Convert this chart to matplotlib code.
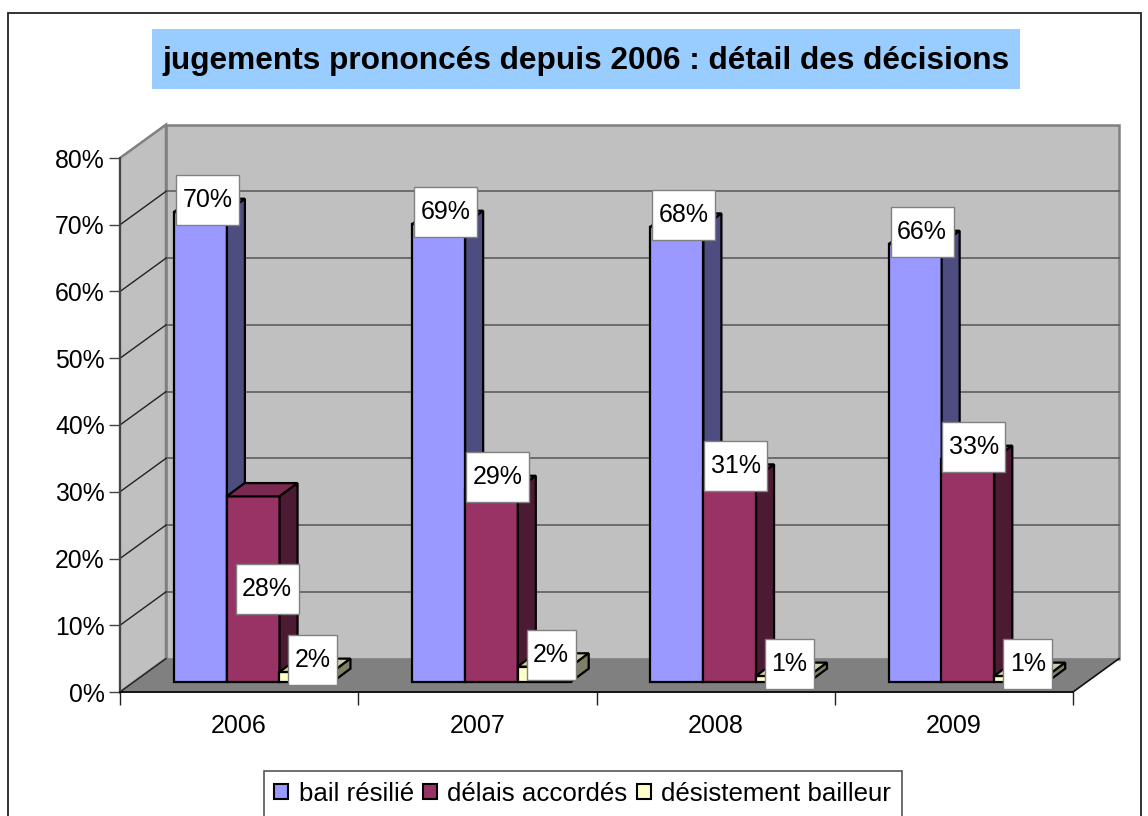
import matplotlib
matplotlib.use("Agg")
from matplotlib import pyplot as plt
from matplotlib.patches import Polygon, Rectangle
from matplotlib.path import Path

plt.rcParams["font.family"] = ["Liberation Sans", "DejaVu Sans"]

W, H = 1148, 816

years = ["2006", "2007", "2008", "2009"]
series_names = ["bail résilié", "délais accordés", "désistement bailleur"]
bail_resilie = [70.4, 68.6, 68.2, 65.6]
delais_accordes = [27.8, 28.9, 30.6, 33.4]
desistement = [1.5, 2.3, 0.9, 0.9]
labels_bail = ["70%", "69%", "68%", "66%"]
labels_delais = ["28%", "29%", "31%", "33%"]
labels_desist = ["2%", "2%", "1%", "1%"]
y_ticks = [0, 10, 20, 30, 40, 50, 60, 70, 80]


def px_box(x0, y0, x1, y1):
    """Pixel box (y from the top) to figure fraction [left, bottom, width, height]."""
    return [x0 / W, 1 - y1 / H, (x1 - x0) / W, (y1 - y0) / H]


def label_box(x0, y0, width, height, mutation_size):
    """Label background: 6.5 px each side, always 50 px high."""
    left, right = x0 - 6.5, x0 + width + 6.5
    mid = y0 + height / 2
    low, high = mid - 25, mid + 25
    return Path([(left, low), (right, low), (right, high), (left, high), (left, low)], closed=True)


def draw_bar_3d(ax, x, value, width, base, depth_x, depth_y, front, top, side):
    ax.bar(x, value, width, bottom=base, color=front, edgecolor="black",
           linewidth=1.6, zorder=4, clip_on=False)
    left, right = x - width / 2, x + width / 2
    high = base + value
    ax.add_patch(Polygon(
        [(left, high), (right, high), (right + depth_x, high + depth_y), (left + depth_x, high + depth_y)],
        facecolor=top, edgecolor="black", linewidth=1.6, zorder=4, clip_on=False))
    ax.add_patch(Polygon(
        [(right, base), (right + depth_x, base + depth_y), (right + depth_x, high + depth_y), (right, high)],
        facecolor=side, edgecolor="black", linewidth=1.6, zorder=4, clip_on=False))


fig = plt.figure(figsize=(W / 100, H / 100), dpi=100)

# outer chart frame, runs off the bottom of the picture
l, b, w, h = px_box(7.5, 13, 1141, 830)
fig.add_artist(Rectangle((l, b), w, h, transform=fig.transFigure, facecolor="white",
                         edgecolor="#222222", linewidth=1.3, zorder=-2))

# title with its blue background
l, b, w, h = px_box(152, 29, 1020, 89)
fig.add_artist(Rectangle((l, b), w, h, transform=fig.transFigure, facecolor="#99CCFF",
                         edgecolor="none", zorder=-1))
fig.text(586 / W, 1 - 61 / H, "jugements prononcés depuis 2006 : détail des décisions",
         fontsize=22.8, fontweight="bold", ha="center", va="center", color="black")

ax = fig.add_axes(px_box(120, 158, 1073, 692))
ax.set_xlim(-0.5, 3.5)
ax.set_ylim(0, 80)
ax.patch.set_alpha(0)

# depth of the box and of the bars, in data units
wall_dx = 46 / 238.25
wall_dy = 5.0
bar_w = 0.2225
bar_dx = 0.0755
bar_dy = 2.0
base = 1.5
shifts = [-0.1625, 0.0585, 0.2805]

x_lo, x_hi = -0.5, 3.5
ax.add_patch(Polygon(
    [(x_lo + wall_dx, wall_dy), (x_hi + wall_dx, wall_dy), (x_hi + wall_dx, 80 + wall_dy), (x_lo + wall_dx, 80 + wall_dy)],
    facecolor="#C0C0C0", edgecolor="#808080", linewidth=1.8, zorder=1, clip_on=False))
ax.add_patch(Polygon(
    [(x_lo, 0), (x_lo + wall_dx, wall_dy), (x_lo + wall_dx, 80 + wall_dy), (x_lo, 80)],
    facecolor="#C0C0C0", edgecolor="#808080", linewidth=1.8, zorder=1, clip_on=False))
ax.add_patch(Polygon(
    [(x_lo, 0), (x_hi, 0), (x_hi + wall_dx, wall_dy), (x_lo + wall_dx, wall_dy)],
    facecolor="#808080", edgecolor="none", zorder=2, clip_on=False))

for t in y_ticks[1:-1]:
    ax.plot([x_lo + wall_dx, x_hi + wall_dx], [t + wall_dy, t + wall_dy], color="#555555",
            linewidth=1.1, zorder=2, clip_on=False)
for t in y_ticks[:-1]:
    ax.plot([x_lo, x_lo + wall_dx], [t, t + wall_dy], color="#222222",
            linewidth=1.0, zorder=3, clip_on=False)
ax.plot([x_hi, x_hi + wall_dx], [0, wall_dy], color="#111111", linewidth=1.2, zorder=3, clip_on=False)

colors = [
    ("#9999FF", "#7A7ACC", "#4D4D80"),
    ("#993366", "#7A2951", "#4D1A33"),
    ("#FFFFCC", "#CCCCA3", "#808066"),
]
values = [bail_resilie, delais_accordes, desistement]
labels = [labels_bail, labels_delais, labels_desist]

for i in range(len(years)):
    for s in range(3):
        front, top, side = colors[s]
        draw_bar_3d(ax, i + shifts[s], values[s][i], bar_w, base, bar_dx, bar_dy, front, top, side)

# data labels sit over the bars, offsets in pixels from the bar top
label_dx = [7, 6, 7]
for i in range(len(years)):
    for s in range(3):
        x = i + shifts[s]
        y = base + values[s][i]
        off = (label_dx[s], 12)
        if s == 1 and i == 0:
            # the 2006 label was moved down the bar in the original
            y = base + values[s][i] / 2
            off = (14, 0)
        ax.annotate(labels[s][i], (x, y), xytext=(off[0] * 0.72, off[1] * 0.72),
                    textcoords="offset points", ha="center", va="center", fontsize=18,
                    zorder=6, annotation_clip=False,
                    bbox=dict(boxstyle=label_box, facecolor="white",
                              edgecolor="#808080", linewidth=1.0))

ax.set_yticks(y_ticks)
ax.set_yticklabels([f"{t}%" for t in y_ticks], fontsize=17.8)
ax.set_xticks(range(len(years)))
ax.set_xticklabels(years, fontsize=18)
ax.set_xticks([-0.5, 0.5, 1.5, 2.5, 3.5], minor=True)
ax.tick_params(axis="x", which="major", length=0, pad=16)
ax.tick_params(axis="x", which="minor", length=9, width=1.0, color="#222222")
ax.tick_params(axis="y", length=8, width=1.0, color="#444444", pad=3)

for name in ["top", "right"]:
    ax.spines[name].set_visible(False)
ax.spines["left"].set_color("#444444")
ax.spines["left"].set_linewidth(1.4)
ax.spines["bottom"].set_color("#111111")
ax.spines["bottom"].set_linewidth(1.4)
ax.spines["left"].set_zorder(3)
ax.spines["bottom"].set_zorder(3)

handles = [Rectangle((0, 0), 1, 1, facecolor=colors[s][0], edgecolor="black", linewidth=1.5)
           for s in range(3)]
leg = fig.legend(handles, series_names, ncols=3, loc="upper left",
                 bbox_to_anchor=(263.5 / W, 1 - 771 / H), borderaxespad=0, fontsize=18.6,
                 frameon=True, fancybox=False, framealpha=1, edgecolor="#555555",
                 handlelength=0.54, handleheight=0.54, handletextpad=0.4,
                 columnspacing=0.36, borderpad=0.42)
leg.get_frame().set_linewidth(1.2)

fig.savefig("out.png", dpi=100)
